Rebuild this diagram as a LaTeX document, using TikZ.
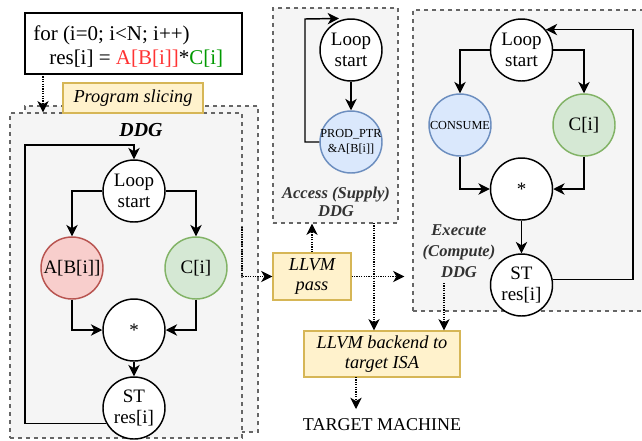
\documentclass[tikz,border=0pt]{standalone}
\usepackage{fontspec}
\setmainfont{Liberation Serif}
\usetikzlibrary{arrows.meta,calc}
\definecolor{grayd}{HTML}{666666}
\definecolor{grayf}{HTML}{F5F5F5}
\definecolor{yelld}{HTML}{D6B656}
\definecolor{yellf}{HTML}{FFF2CC}
\definecolor{redd}{HTML}{B85450}
\definecolor{redf}{HTML}{F8CECC}
\definecolor{grnd}{HTML}{82B366}
\definecolor{grnf}{HTML}{D5E8D4}
\definecolor{blud}{HTML}{6C8EBF}
\definecolor{bluf}{HTML}{DAE8FC}
\definecolor{dgray}{HTML}{333333}
\definecolor{cred}{HTML}{FF3333}
\definecolor{cgreen}{HTML}{009900}
\begin{document}
\begin{tikzpicture}[x=0.75pt,y=-0.75pt,
  grp/.style={draw=grayd, fill=grayf, line width=0.9pt, dash pattern=on 3pt off 3pt, inner sep=0pt},
  nd/.style={circle, draw, fill=white, line width=1.1pt, minimum size=46.5pt, inner sep=0pt, align=center, font=\fontsize{14.25}{15.75}\selectfont},
  arr/.style={-{Stealth[length=8.5pt,width=8.5pt,inset=2.5pt]}, line width=1.1pt},
  dotarr/.style={-{Stealth[length=8.5pt,width=8.5pt,inset=2.5pt]}, line width=0.9pt, dash pattern=on 0.9pt off 0.9pt},
  ybox/.style={draw=yelld, fill=yellf, line width=0.9pt, align=center, font=\fontsize{13.75}{15.5}\selectfont\itshape, inner sep=0pt},
  lbl/.style={align=center, font=\fontsize{12.4}{13.5}\selectfont\bfseries\itshape, text=dgray, inner sep=0pt}
]
\useasboundingbox (0,0) rectangle (642,440);

% code box
\node[draw, line width=1.1pt, minimum width=162.75pt, minimum height=45.75pt, inner sep=0pt] (code) at (133.5,43.5) {};
\node[anchor=base west, inner sep=0pt, font=\fontsize{15.75}{18}\selectfont] (l1) at (33,40) {for (i=0; i<N; i++)};
\node[anchor=base west, inner sep=0pt, font=\fontsize{15.75}{18}\selectfont] (l2) at (49,64) {res[i] = \textcolor{cred}{A[B[i]]}*\textcolor{cgreen}{C[i]}};

% left DDG groups
\node[grp, minimum width=174.75pt, minimum height=244.5pt] (back) at (141.5,269) {};
\node[grp, minimum width=174pt, minimum height=243.75pt] (front) at (126,275.5) {};
\node[ybox, minimum width=105pt, minimum height=22.5pt] (slice) at (133,98) {Program slicing};
\node[inner sep=0pt, font=\fontsize{14.9}{16}\selectfont\bfseries\itshape] (ddgl) at (141,130) {DDG};

% access and execute groups
\node[grp, minimum width=93.75pt, minimum height=161.25pt] (acc) at (335.5,115.5) {};
\node[grp, minimum width=177.75pt, minimum height=225.75pt] (exe) at (531.5,160.5) {};

% left DDG nodes
\node[nd] (ls1) at (134,191) {Loop\\start};
\node[nd, draw=redd, fill=redf] (a1) at (72,268) {A[B[i]]};
\node[nd, draw=grnd, fill=grnf] (c1) at (196,268) {C[i]};
\node[nd] (m1) at (134,330) {*};
\node[nd] (st1) at (134,408) {ST\\res[i]};
\coordinate (k1) at (25,145);
\draw[arr] (ls1.west) -| (a1.north);
\draw[arr] (ls1.east) -| (c1.north);
\draw[arr] (a1.south) |- (m1.west);
\draw[arr] (c1.south) |- (m1.east);
\draw[arr] (m1) -- (st1);
\draw[arr] (st1.209) -| (k1) -| (ls1.north);

% access DDG nodes
\node[nd] (ls2) at (351,50) {Loop\\start};
\node[nd, draw=blud, fill=bluf, font=\fontsize{9.2}{11}\selectfont] (pp) at (351,142) {\makebox[0pt]{PROD\_PTR}\\\makebox[0pt]{\&A[B[i]]}};
\coordinate (k2) at (305,19);
\draw[arr, line width=1.5pt] (ls2) -- (pp);
\draw[arr, shorten >=9pt] (pp.west) -| (k2) -- (ls2.north);
\node[lbl] (accl) at (336,201.5) {Access (Supply)\\DDG};

% execute DDG nodes
\node[nd] (ls3) at (521.5,50) {Loop\\start};
\node[nd, draw=blud, fill=bluf, font=\fontsize{9.2}{11}\selectfont] (cs) at (460,125) {\makebox[0pt]{CONSUME}};
\node[nd, draw=grnd, fill=grnf] (c3) at (584,125) {C[i]};
\node[nd] (m3) at (521.5,189) {*};
\node[nd] (st3) at (521.5,285) {ST\\res[i]};
\coordinate (k3) at (633,30);
\draw[arr] (ls3.west) -| (cs.north);
\draw[arr] (ls3.east) -| (c3.north);
\draw[arr] (cs.south) |- (m3.west);
\draw[arr] (c3.south) |- (m3.east);
\draw[arr] (m3) -- (st3);
\draw[arr] (st3.10) -| (k3) |- (ls3.40);
\node[lbl, font=\fontsize{12.4}{15.5}\selectfont\bfseries\itshape] (exel) at (459,251) {Execute\\(Compute)\\DDG};

% pipeline boxes
\node[ybox, minimum width=58.5pt, minimum height=35.25pt] (pass) at (312,276.5) {LLVM\\pass};
\node[ybox, minimum width=117pt, minimum height=34.5pt] (be) at (382,354) {LLVM backend to\\target ISA};
\node[inner sep=0pt, font=\fontsize{13.5}{15}\selectfont] (tm) at (382,425) {TARGET MACHINE};

% dotted connectors
\coordinate (s0) at (43,74);
\coordinate (s1) at (242,227);
\coordinate (a0) at (374,223);
\coordinate (e0) at (444,283);
\coordinate (b0) at (356,377);
\coordinate (t0) at (356,409);
\draw[dotarr] (s0) -- (s0 |- front.north);
\draw[dotarr] (s1) |- (pass.west);
\draw[dotarr] (pass.north) -- (pass.north |- acc.south);
\draw[dotarr, shorten >=6pt] (pass.east) -- (pass.east -| exe.west);
\draw[dotarr] (a0) -- (a0 |- be.north);
\draw[dotarr] (e0) -- (e0 |- be.north);
\draw[dotarr] (b0) -- (t0);
\end{tikzpicture}
\end{document}
